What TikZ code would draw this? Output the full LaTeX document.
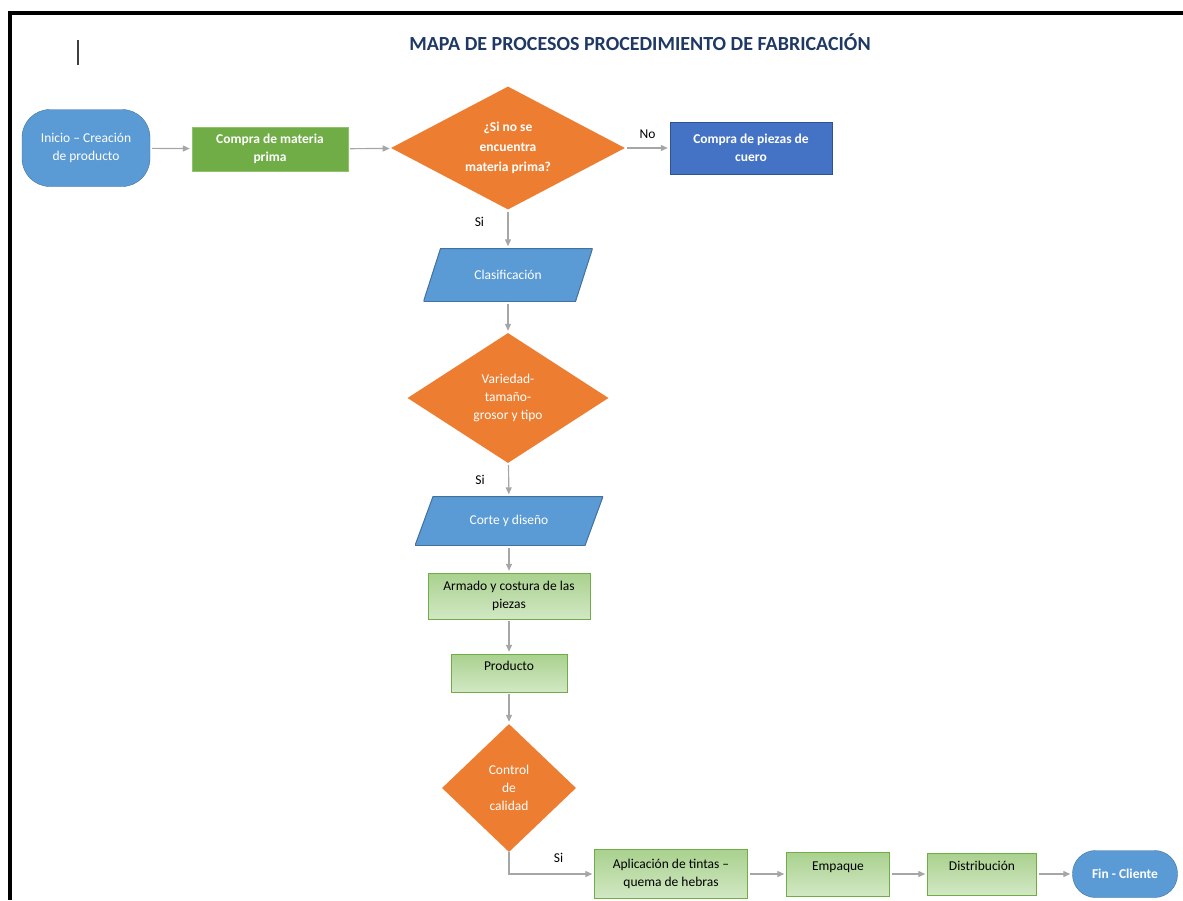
\documentclass[tikz,border=0pt]{standalone}
\usepackage{fontspec}
\setmainfont{Carlito}
\usetikzlibrary{shapes.geometric,arrows.meta}
\definecolor{azulclaro}{HTML}{5B9BD5}
\definecolor{azulborde}{HTML}{41719C}
\definecolor{azuloscuro}{HTML}{4472C4}
\definecolor{azulosborde}{HTML}{2F528F}
\definecolor{verde}{HTML}{70AD47}
\definecolor{verdeborde}{HTML}{8FC36B}
\definecolor{verdesup}{HTML}{A9D18E}
\definecolor{verdeinf}{HTML}{D2E8C4}
\definecolor{naranja}{HTML}{ED7D31}
\definecolor{gris}{HTML}{A6A6A6}
\definecolor{titulo}{HTML}{1F3864}
\tikzstyle{extremo}=[rectangle, rounded corners=28pt, fill=azulclaro, draw=azulborde, text=white, align=center, font=\fontsize{13.5}{18}\selectfont]
\tikzstyle{compra}=[rectangle, fill=verde, draw=verdeborde, text=white, align=center, font=\bfseries\fontsize{13.5}{18}\selectfont]
\tikzstyle{piezas}=[rectangle, fill=azuloscuro, draw=azulosborde, text=white, align=center, font=\bfseries\fontsize{13.5}{18}\selectfont]
\tikzstyle{decision}=[diamond, fill=naranja, inner sep=0pt, text=white, align=center, font=\fontsize{13.5}{18}\selectfont]
\tikzstyle{tarea}=[rectangle, top color=verdesup, bottom color=verdeinf, draw=verde, align=center, font=\fontsize{13.5}{18}\selectfont]
\tikzstyle{rotulo}=[text=black, font=\fontsize{13.5}{15}\selectfont]
\tikzstyle{flecha}=[draw=gris, line width=1.2pt, -{Triangle[length=7pt,width=6pt]}, shorten <=2pt, shorten >=2pt]
\tikzset{entrada/.style={rectangle, inner sep=0pt, text=white, align=center, font=\fontsize{13.5}{18}\selectfont,
    path picture={\filldraw[fill=azulclaro, draw=azulborde, line width=1pt]
      ([xshift=#1]path picture bounding box.north west)--(path picture bounding box.north east)
      --([xshift=-#1]path picture bounding box.south east)--(path picture bounding box.south west)--cycle;}}}

\begin{document}
\begin{tikzpicture}[x=1pt, y=-1pt]
                \useasboundingbox (0,0) rectangle (1183,900);
                % marco de la hoja
                \fill[black] (8,11) rectangle (1183,15);
                \fill[black] (8,11) rectangle (12,900);
                \draw[black!75, line width=1.5pt] (78,40)--(78,65);
                \node[text=titulo, font=\bfseries\fontsize{20}{24}\selectfont] (tit) at (640,42) {MAPA DE PROCESOS PROCEDIMIENTO DE FABRICACIÓN};
                % fila superior
                \node[extremo, minimum width=128pt, minimum height=77pt] (ini) at (86,148) {Inicio – Creación\\de producto};
                \node[compra, minimum width=156pt, minimum height=44pt] (mat) at (270,149) {Compra de materia\\prima};
                \node[decision, aspect=1.9, minimum width=234pt, minimum height=123pt, font=\bfseries\fontsize{13.5}{20}\selectfont] (d1) at (508,148) {¿Si no se\\encuentra\\materia prima?};
                \node[piezas, minimum width=162pt, minimum height=52pt] (pie) at (751,148) {Compra de piezas de\\cuero};
                % columna central
                \node[entrada=17pt, minimum width=169pt, minimum height=53pt] (cla) at (508,275) {Clasificación};
                \node[decision, minimum width=201pt, minimum height=130pt] (d2) at (508,398) {Variedad-\\tamaño-\\grosor y tipo};
                \node[entrada=18pt, minimum width=188pt, minimum height=49pt] (cor) at (509,521) {Corte y diseño};
                \node[tarea, minimum width=162pt, minimum height=46pt] (arm) at (509,596) {Armado y costura de las\\piezas};
                \node[tarea, minimum width=116pt, minimum height=38pt, text height=9pt, text depth=14pt] (pro) at (509,673) {Producto};
                \node[decision, minimum width=134pt, minimum height=128pt] (d3) at (509,788) {Control\\de\\calidad};
                % fila inferior
                \node[tarea, minimum width=153pt, minimum height=49pt] (apl) at (671,874) {Aplicación de tintas –\\quema de hebras};
                \node[tarea, minimum width=103pt, minimum height=44pt, text height=9pt, text depth=16pt] (emp) at (838,874) {Empaque};
                \node[tarea, minimum width=109pt, minimum height=42pt, text height=9pt, text depth=16pt] (dis) at (982,874) {Distribución};
                \node[extremo, rounded corners=23pt, minimum width=105pt, minimum height=47pt, font=\bfseries\fontsize{13.5}{18}\selectfont] (fin) at (1125,874) {Fin - Cliente};
                % conectores
                \draw[flecha] (ini)--(mat);
                \draw[flecha] (mat)--(d1);
                \draw[flecha] (d1)--(pie) node[midway, above=5pt, rotulo] {No};
                \draw[flecha] (d1)--(cla) node[pos=.32, left=20pt, rotulo] {Si};
                \draw[flecha] (cla)--(d2);
                \draw[flecha] (d2)--(cor) node[midway, left=20pt, rotulo] {Si};
                \draw[flecha] (cor)--(arm);
                \draw[flecha] (arm)--(pro);
                \draw[flecha] (pro)--(d3);
                \draw[flecha, shorten <=0pt] (d3.south) |- (apl.west) node[pos=.79, above=7pt, rotulo] {Si};
                \draw[flecha] (apl)--(emp);
                \draw[flecha] (emp)--(dis);
                \draw[flecha] (dis)--(fin);
            \end{tikzpicture}
\end{document}
